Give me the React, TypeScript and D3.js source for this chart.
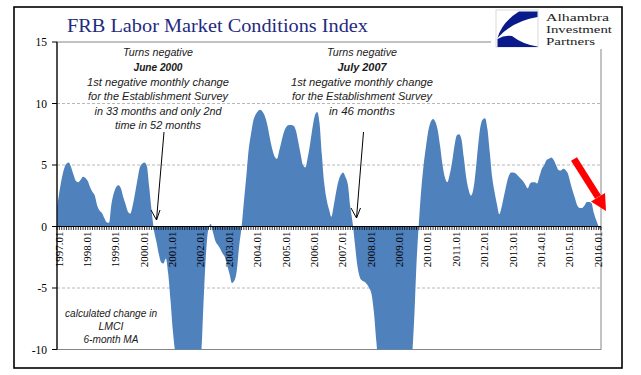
import React from "react";
import * as d3 from "d3";

// Monthly values, 1997.01 .. 2016.03 (6-month MA of calculated change in LMCI)
const values: number[] = [
  // 1997
  1.5, 2.8, 3.9, 4.7, 5.1, 5.2, 4.8, 4.2, 3.7, 3.6, 3.8, 4.05,
  // 1998
  3.95, 3.7, 3.2, 2.8, 2.5, 1.7, 1.3, 1.1, 0.7, 0.35, 0.3, 1.8,
  // 1999
  2.7, 3.2, 3.35, 3.1, 2.4, 1.8, 1.2, 1.05, 1.7, 2.7, 3.8, 4.8,
  // 2000
  5.1, 5.2, 4.9, 3.2, 1.3, -0.3, -1.2, -2.2, -2.9, -3.0, -2.6, -3.8,
  // 2001
  -6.0, -8.5, -10.3, -11.5, -12.5, -13.2, -13.5, -13.3, -12.8, -12.2, -11.8, -11.5,
  // 2002
  -11.0, -10.3, -6.0, -2.2, -0.2, 0.2, -0.5, -1.2, -1.5, -1.8, -2.2, -2.5,
  // 2003
  -3.2, -3.9, -4.6, -4.4, -3.6, -1.6, -0.1, 2.0, 4.0, 6.2, 7.5, 8.6,
  // 2004
  9.1, 9.4, 9.5, 9.3, 8.9, 8.2, 7.2, 6.3, 5.7, 5.5, 6.2, 7.0,
  // 2005
  7.7, 8.1, 8.25, 8.25, 8.2, 7.8, 6.9, 5.9, 5.0, 4.8, 5.6, 6.7,
  // 2006
  8.0, 9.0, 9.3, 8.4, 5.8, 3.5, 2.2, 1.4, 0.8, 1.7, 2.8, 3.7,
  // 2007
  4.2, 4.4, 4.0, 3.4, 1.6, 0.3, -1.5, -3.2, -4.1, -4.4, -4.5, -4.7,
  // 2008
  -5.0, -5.5, -7.0, -9.3, -11.5, -13, -14.5, -16, -17, -17.5, -17.5, -17,
  // 2009
  -16.5, -16, -15, -14, -13, -12, -10.8, -7.6, -3.0, 0.3, 3.0, 5.0,
  // 2010
  6.5, 7.8, 8.5, 8.75, 8.5, 7.8, 6.5, 5.0, 4.0, 3.6, 4.2, 5.2,
  // 2011
  6.5, 7.4, 7.5, 7.1, 5.6, 4.0, 3.0, 2.5, 3.0, 4.5, 6.5, 8.1,
  // 2012
  8.7, 8.8, 7.9, 6.0, 4.0, 2.8, 1.8, 1.0, 1.6, 2.5, 3.4, 4.1,
  // 2013
  4.4, 4.4, 4.3, 4.1, 3.9, 3.7, 3.4, 3.1, 3.5, 3.6, 3.6, 3.5,
  // 2014
  4.1, 4.7, 5.0, 5.4, 5.5, 5.6, 5.4, 5.0, 4.6, 4.55, 4.7, 4.6,
  // 2015
  4.3, 3.6, 2.9, 2.3, 1.7, 1.5, 1.5, 1.7, 2.0, 2.0, 1.9, 1.1,
  // 2016
  0.5, 0.0, -0.4,
];

const yearLabels: string[] = [
  "1997.01", "1998.01", "1999.01", "2000.01", "2001.01", "2002.01", "2003.01",
  "2004.01", "2005.01", "2006.01", "2007.01", "2008.01", "2009.01", "2010.01",
  "2011.01", "2012.01", "2013.01", "2014.01", "2015.01", "2016.01",
];

const yTicks: number[] = [15, 10, 5, 0, -5, -10];
const gridValues: number[] = [10, 5, -5];

const annotationLeft: string[] = [
  "Turns negative",
  "June 2000",
  "1st negative monthly change",
  "for the Establishment Survey",
  "in 33 months and only 2nd",
  "time in 52 months",
];
const annotationRight: string[] = [
  "Turns negative",
  "July 2007",
  "1st negative monthly change",
  "for the Establishment Survey",
  "in 46 months",
];
const noteLines: string[] = ["calculated change in", "LMCI", "6-month MA"];
const logoLines: string[] = ["Alhambra", "Investment", "Partners"];

export default function App() {
  const W = 641;
  const H = 375;
  const left = 57;
  const right = 601;
  const top = 42;
  const bottom = 349.5;

  const x = d3.scaleLinear().domain([0, values.length - 1]).range([left, right]);
  const y = d3.scaleLinear().domain([-10, 15]).range([bottom, top]);

  const area = d3
    .area<number>()
    .x((_, i) => x(i))
    .y0(y(0))
    .y1((d) => y(d))
    .curve(d3.curveMonotoneX);

  const sans = "'Liberation Sans', Arial, sans-serif";
  const serif = "'Liberation Serif', 'Times New Roman', serif";
  const txt = "#1a1a1a";

  const annoWidths = [70, 49, 142, 140, 127, 86];
  const annoWidthsR = [70, 49, 142, 140, 66];
  const lineYs = [56, 71, 85.5, 100, 114.5, 129];
  const logoWidths = [63, 66, 49];

  return (
    <svg
      width={W}
      height={H}
      style={{ position: "absolute", left: 0, top: 0, background: "#fff" }}
    >
      <defs>
        <clipPath id="plotClip">
          <rect x={left} y={top} width={right - left} height={bottom - top} />
        </clipPath>
      </defs>
      <rect x={0} y={0} width={W} height={H} fill="#fff" />
      {/* outer frame */}
      <rect x={14} y={7} width={608} height={361} fill="none" stroke="#000" strokeWidth={1.6} />

      {/* plot border */}
      <rect
        x={left}
        y={top}
        width={right - left}
        height={bottom - top}
        fill="none"
        stroke="#868686"
        strokeWidth={1}
      />

      {/* gridlines */}
      {gridValues.map((g) => (
        <line
          key={g}
          x1={left}
          x2={right}
          y1={y(g)}
          y2={y(g)}
          stroke="#a6a6a6"
          strokeWidth={0.8}
          strokeDasharray="3,2"
        />
      ))}

      {/* area */}
      <g clipPath="url(#plotClip)">
        <path d={area(values) || ""} fill="#4F81BD" />
      </g>

      {/* x axis at zero with monthly ticks */}
      <line x1={left} x2={right} y1={y(0)} y2={y(0)} stroke="#000" strokeWidth={1.2} />
      {values.map((_, i) => (
        <line
          key={i}
          x1={x(i)}
          x2={x(i)}
          y1={y(0)}
          y2={y(0) + 3.5}
          stroke="#000"
          strokeWidth={0.8}
        />
      ))}
      {yearLabels.map((lab, k) => (
        <text
          key={lab}
          transform={`translate(${x(k * 12) + 1.5},${y(0) + 5}) rotate(-90)`}
          textAnchor="end"
          dominantBaseline="central"
          fontFamily={serif}
          fontSize={11}
          fill="#000"
        >
          {lab}
        </text>
      ))}

      {/* y axis */}
      <line x1={left} x2={left} y1={top} y2={bottom} stroke="#000" strokeWidth={1.2} />
      {yTicks.map((t) => (
        <g key={t}>
          <line x1={left - 5} x2={left} y1={y(t)} y2={y(t)} stroke="#000" strokeWidth={1} />
          <text
            x={47}
            y={y(t)}
            textAnchor="end"
            dominantBaseline="central"
            fontFamily={serif}
            fontSize={11.5}
            fill="#000"
          >
            {t}
          </text>
        </g>
      ))}

      {/* title */}
      <text
        x={67}
        y={32}
        fontFamily={serif}
        fontSize={18.5}
        fill="#1F2A80"
        textLength={301}
        lengthAdjust="spacingAndGlyphs"
      >
        FRB Labor Market Conditions Index
      </text>

      {/* logo */}
      <rect x={491} y={8} width={126} height={41} fill="#fff" />
      <rect x={496} y={10} width={42} height={37} fill="#fff" stroke="#d0d0d0" strokeWidth={0.8} />
      <path
        d="M519 11.5 L537.5 11.5 L537.5 17 Q513 21 497.5 38 Q502 22 519 11.5 Z"
        fill="#0B1A8A"
      />
      <path
        d="M497.5 39 Q505 34.5 512 36 Q523 44.5 537.5 46.5 L537.5 47 L497.5 47 Z"
        fill="#0B1A8A"
      />
      <g fontFamily={serif} fontSize={11} fill="#222">
        {logoLines.map((s, i) => (
          <text
            key={s}
            x={546}
            y={20.5 + i * 12.3}
            textLength={logoWidths[i]}
            lengthAdjust="spacingAndGlyphs"
          >
            {s}
          </text>
        ))}
      </g>

      {/* annotations */}
      <g fontFamily={sans} fontSize={11.5} fontStyle="italic" fill={txt} textAnchor="middle">
        {annotationLeft.map((s, i) => (
          <text
            key={"l" + i}
            x={158}
            y={lineYs[i]}
            fontWeight={i === 1 ? "bold" : "normal"}
            textLength={annoWidths[i]}
            lengthAdjust="spacingAndGlyphs"
          >
            {s}
          </text>
        ))}
        {annotationRight.map((s, i) => (
          <text
            key={"r" + i}
            x={362}
            y={lineYs[i]}
            fontWeight={i === 1 ? "bold" : "normal"}
            textLength={annoWidthsR[i]}
            lengthAdjust="spacingAndGlyphs"
          >
            {s}
          </text>
        ))}
        {noteLines.map((s, i) => (
          <text
            key={"n" + i}
            x={111}
            y={317 + i * 13}
            fontSize={11}
            textLength={[92, 25, 55][i]}
            lengthAdjust="spacingAndGlyphs"
          >
            {s}
          </text>
        ))}
      </g>

      {/* black arrows */}
      <g stroke="#000" strokeWidth={1} fill="none">
        <line x1={164} y1={132} x2={156.5} y2={220} />
        <polyline points="151,210 156.5,220 160,210" />
        <line x1={363.5} y1={132} x2={356.5} y2={218} />
        <polyline points="351,208 356.5,218 360.5,208" />
      </g>

      {/* red arrow */}
      <line x1={574} y1={159} x2={598} y2={197} stroke="#FF0000" strokeWidth={7} />
      <polygon points="606,211 591,201.5 605,193" fill="#FF0000" />
    </svg>
  );
}
